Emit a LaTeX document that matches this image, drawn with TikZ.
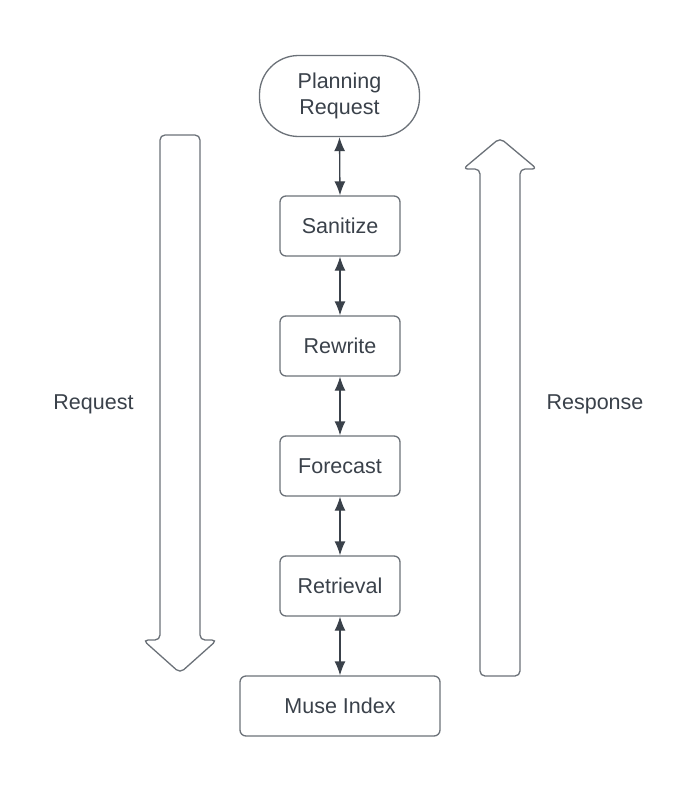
\documentclass[tikz,border=0pt]{standalone}
\usepackage{fontspec}
\setmainfont{Liberation Sans}
\usetikzlibrary{arrows.meta}
\definecolor{txt}{HTML}{3A414A}
\definecolor{edge}{HTML}{6B7178}
\tikzset{
  box/.style={draw=edge, line width=1.3pt, rounded corners=6pt, minimum width=120pt, minimum height=60pt, inner sep=0pt, text=txt, font=\fontsize{21.5}{26.5}\selectfont, align=center},
  link/.style={draw=txt, line width=1.3pt, {Latex[length=14pt,width=11pt]}-{Latex[length=14pt,width=11pt]}},
  bigarrow/.style={draw=edge, line width=1.3pt, rounded corners=5pt, fill=white},
  lbl/.style={text=txt, font=\fontsize{21.5}{26.5}\selectfont, inner sep=0pt}
}
\begin{document}
\begin{tikzpicture}[x=1pt, y=-1pt]
\useasboundingbox (0,0) rectangle (698,792);
% big arrows
\draw[bigarrow] (160,135) -- (200,135) -- (200,640) -- (217,640) -- (180,673) -- (143,640) -- (160,640) -- cycle;
\draw[bigarrow] (480,676) -- (480,169) -- (463,169) -- (500,138) -- (537,169) -- (520,169) -- (520,676) -- cycle;
\node[lbl] (req) at (93.5,404) {Request};
\node[lbl] (resp) at (595,404) {Response};
% nodes
\node[box, minimum width=160pt, minimum height=81pt, rounded corners=39pt] (plan) at (339.5,96) {Planning\\Request};
\node[box] (san) at (340,226) {Sanitize};
\node[box] (rew) at (340,346) {Rewrite};
\node[box] (fore) at (340,466) {Forecast};
\node[box] (ret) at (340,586) {Retrieval};
\node[box, minimum width=200pt] (muse) at (340,706) {Muse Index};
% links
\draw[link] (plan.south) -- (san.north);
\draw[link] (san.south) -- (rew.north);
\draw[link] (rew.south) -- (fore.north);
\draw[link] (fore.south) -- (ret.north);
\draw[link] (ret.south) -- (muse.north);
\end{tikzpicture}
\end{document}
